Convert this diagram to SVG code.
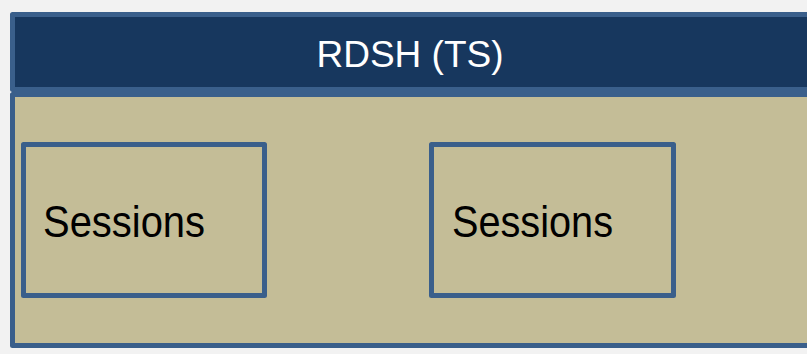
<svg xmlns="http://www.w3.org/2000/svg" width="807" height="354" viewBox="0 0 807 354">
<style>
.frame{stroke:#3a5f8b;stroke-width:5;stroke-linejoin:round}
.hdr{fill:#17375e}
.body{fill:#c4bd97}
.sess{fill:#c4bd97;stroke:#3a5f8b;stroke-width:5;stroke-linejoin:round}
.t{font-family:"Liberation Sans",Arial,sans-serif}
</style>
<rect x="0" y="0" width="807" height="354" fill="#f2f2f2"/>
<g id="rdsh">
<rect class="frame body" x="12.5" y="94.5" width="820" height="251"/>
<rect class="frame hdr" x="12.5" y="14.5" width="820" height="75"/>
<text class="t" x="410" y="66.5" font-size="37" fill="#ffffff" text-anchor="middle">RDSH (TS)</text>
</g>
<g id="sessions1">
<rect class="sess" x="23.5" y="144.5" width="241" height="151"/>
<text class="t" x="43" y="236.5" font-size="45" fill="#000000" textLength="162" lengthAdjust="spacingAndGlyphs">Sessions</text>
</g>
<g id="sessions2">
<rect class="sess" x="431.5" y="144.5" width="242" height="151"/>
<text class="t" x="452" y="236.5" font-size="45" fill="#000000" textLength="161" lengthAdjust="spacingAndGlyphs">Sessions</text>
</g>
<g id="connectors"/>
</svg>
